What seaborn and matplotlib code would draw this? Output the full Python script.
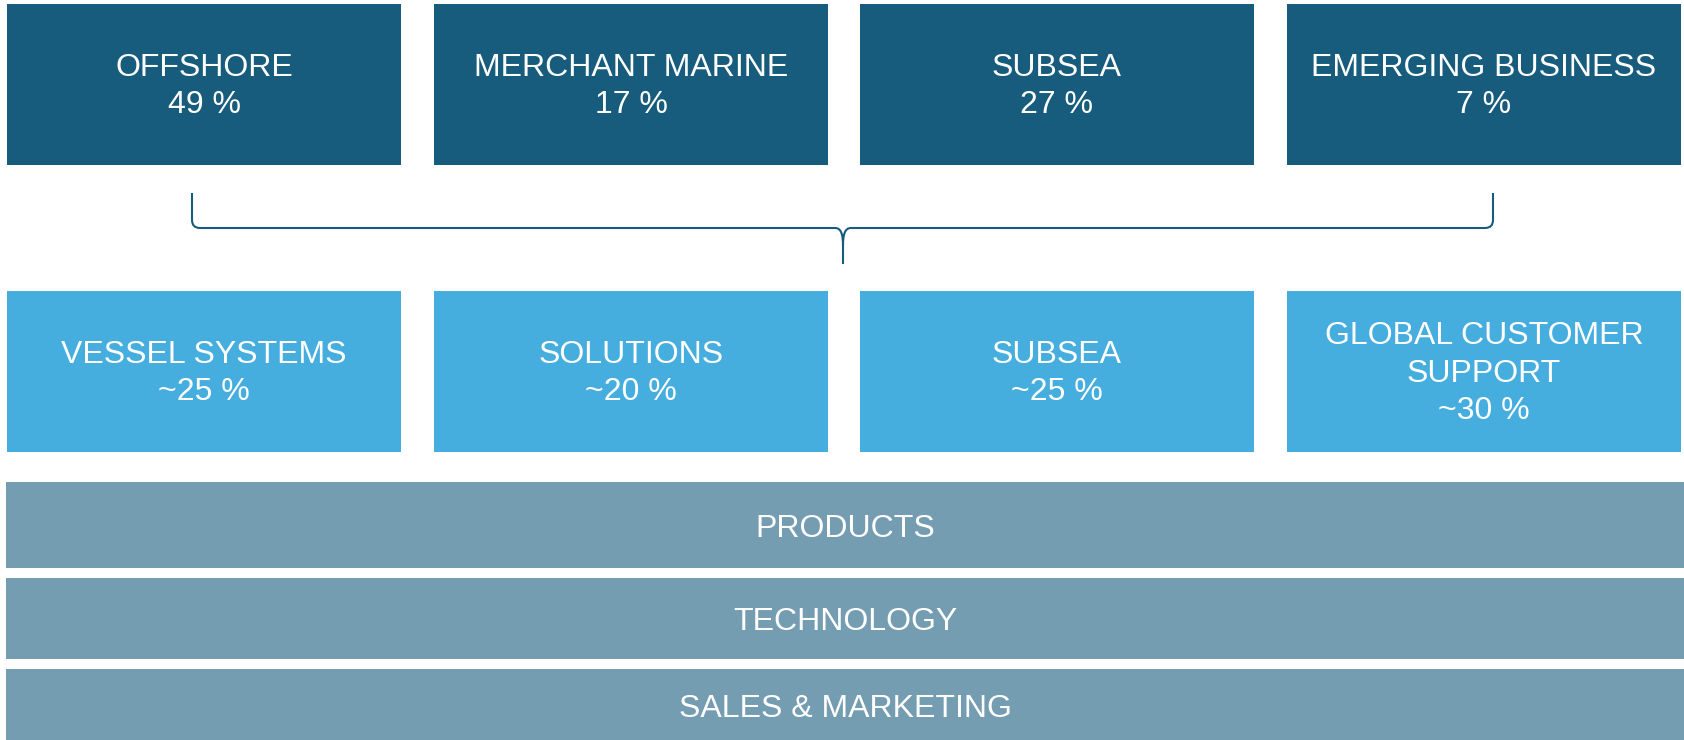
import numpy as np
import seaborn as sns
import matplotlib.pyplot as plt
from matplotlib.patches import Rectangle, PathPatch
from matplotlib.path import Path

sns.set_style('white')
plt.rcParams['font.family'] = ['Liberation Sans', 'DejaVu Sans']

# segments (top row)
segments = ['OFFSHORE', 'MERCHANT MARINE', 'SUBSEA', 'EMERGING BUSINESS']
segment_share = [49, 17, 27, 7]

# divisions (middle row)
divisions = ['VESSEL SYSTEMS', 'SOLUTIONS', 'SUBSEA', 'GLOBAL CUSTOMER\nSUPPORT']
division_share = [25, 20, 25, 30]

# shared platforms (bottom bands)
platforms = ['PRODUCTS', 'TECHNOLOGY', 'SALES & MARKETING']

dark = '#175C7D'
light = '#46ADDF'
grey = '#749DB1'

W, H = 1684, 740
fig = plt.figure(figsize=(W / 100, H / 100), dpi=100)
ax = fig.add_axes([0, 0, 1, 1])
ax.set_xlim(0, W)
ax.set_ylim(H, 0)
ax.axis('off')

# box grid
box_x0 = [7, 434, 860, 1287]
box_w = 394
top_y, top_h = 4, 161
mid_y, mid_h = 291, 161
band_y = [482, 578, 669]
band_h = [86, 81, 72]
fs = 23
ls = 1.31

for x0, name, v in zip(box_x0, segments, segment_share):
    ax.add_patch(Rectangle((x0, top_y), box_w, top_h, color=dark, lw=0))
    ax.text(x0 + box_w / 2, top_y + top_h / 2 + 2, f'{name}\n{v} %', color='white',
            ha='center', va='center', fontsize=fs, linespacing=ls)

for x0, name, v in zip(box_x0, divisions, division_share):
    ax.add_patch(Rectangle((x0, mid_y), box_w, mid_h, color=light, lw=0))
    ax.text(x0 + box_w / 2, mid_y + mid_h / 2 + 2, f'{name}\n~{v} %', color='white',
            ha='center', va='center', fontsize=fs, linespacing=ls)

for y0, h, name in zip(band_y, band_h, platforms):
    ax.add_patch(Rectangle((6, y0), W - 6, h, color=grey, lw=0))
    ax.text(6 + (W - 6) / 2, y0 + h / 2 + 4, name, color='white',
            ha='center', va='center', fontsize=fs)

# curly brace between segments and divisions
xl, xr, xc = 192, 1493, 843
yt, yh, yb = 193, 228, 264
verts = [(xl, yt), (xl, yh - 8), (xl, yh), (xl + 8, yh),
         (xc - 8, yh), (xc - 2, yh), (xc, yh + 6), (xc, yh + 18),
         (xc, yb),
         (xc, yh + 18), (xc, yh + 6), (xc + 2, yh), (xc + 8, yh),
         (xr - 8, yh), (xr, yh), (xr, yh - 8), (xr, yt)]
codes = [Path.MOVETO, Path.LINETO, Path.CURVE3, Path.CURVE3,
         Path.LINETO, Path.CURVE4, Path.CURVE4, Path.CURVE4,
         Path.LINETO,
         Path.MOVETO, Path.CURVE4, Path.CURVE4, Path.CURVE4,
         Path.LINETO, Path.CURVE3, Path.CURVE3, Path.LINETO]
ax.add_patch(PathPatch(Path(verts, codes), fill=False, edgecolor=dark, lw=1.5))

fig.savefig('out.png', dpi=100)
